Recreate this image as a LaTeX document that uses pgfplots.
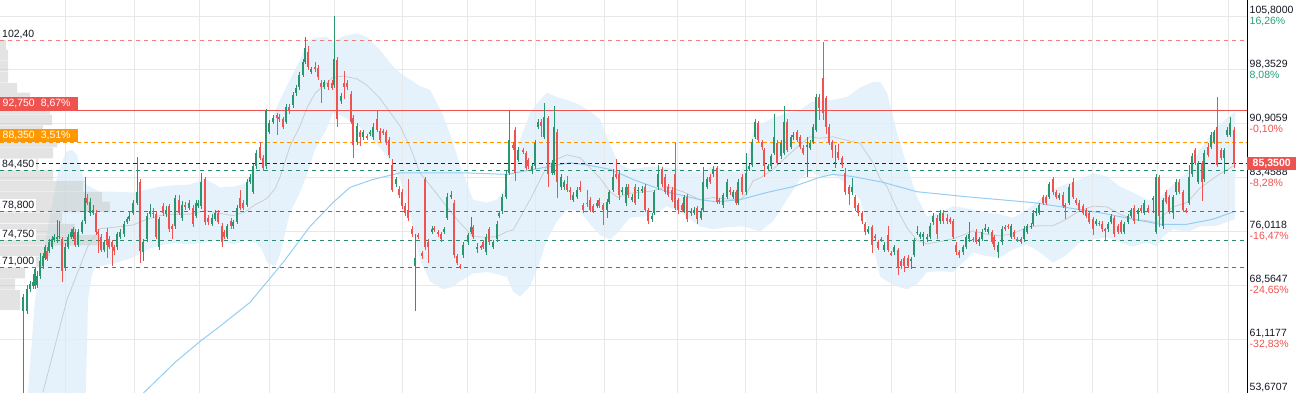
\documentclass[border=0pt]{standalone}
\usepackage{pgfplots}
\pgfplotsset{compat=1.18}
\usepackage{pgfplotstable}
\usepgfplotslibrary{fillbetween}
\usepackage{fontspec}
\setmainfont{Liberation Sans}
\definecolor{cup}{RGB}{42,150,110}
\definecolor{cdn}{RGB}{239,83,80}
\definecolor{corg}{RGB}{255,152,0}
\definecolor{cnavy}{RGB}{20,20,150}
\definecolor{cteal}{RGB}{40,140,110}
\definecolor{cband}{RGB}{224,240,252}
\definecolor{csma}{RGB}{150,205,245}
\definecolor{cmid}{RGB}{205,205,205}
\definecolor{cgrid}{RGB}{232,232,232}
\definecolor{cpg}{RGB}{38,160,120}
\definecolor{ctxt}{RGB}{19,23,34}

\pgfplotstableread{
x o h l c
23 65.0 67.3 50.0 66.9
27 65.0 68.6 64.6 68.0
30 68.0 69.2 67.6 68.7
33 68.4 70.1 68.0 69.0
35 68.4 71.2 68.0 70.8
37 68.6 70.5 68.2 69.9
40 69.8 73.0 69.5 71.9
43 71.2 73.0 70.8 72.6
45 72.4 74.2 72.0 73.8
47 73.3 73.8 71.9 72.2
49 73.3 75.0 73.0 74.5
52 73.9 75.4 73.6 75.0
54 74.8 75.6 74.5 75.2
57 75.0 77.6 74.4 75.3
59 75.3 77.5 74.9 75.4
62 74.9 75.3 69.0 70.5
65 71.0 74.4 70.6 73.9
68 73.9 75.6 73.6 75.3
71 75.2 76.3 74.9 75.9
73 75.3 76.6 75.0 76.3
75 75.9 76.4 73.9 74.2
78 74.2 76.3 73.9 75.9
82 76.0 77.6 75.6 77.3
85 77.4 83.6 77.0 80.7
87 80.7 81.2 79.6 80.0
90 78.6 80.6 78.2 80.1
93 78.6 79.6 78.3 79.0
96 78.6 79.0 75.5 75.9
98 75.9 76.3 73.0 75.6
101 75.2 75.6 73.1 73.5
104 73.5 74.8 73.2 74.5
107 75.9 76.5 72.4 74.2
109 75.0 75.4 73.6 73.9
112 74.5 74.8 71.2 73.8
114 73.9 74.2 72.8 73.3
117 73.9 76.0 73.5 75.6
120 75.3 76.3 75.0 75.9
124 75.6 77.4 75.3 77.0
127 77.3 78.0 77.0 77.7
129 77.7 78.8 77.4 78.1
133 78.6 80.4 78.3 80.0
137 80.0 86.3 79.7 81.5
140 82.9 83.3 71.7 73.3
143 73.1 75.0 71.9 74.6
147 74.9 78.5 74.6 78.1
150 78.4 79.8 78.0 78.8
153 78.6 79.2 77.8 78.4
156 78.4 78.8 74.9 75.2
159 73.8 78.0 73.4 77.7
163 79.5 79.9 78.2 78.6
166 78.4 79.5 78.0 79.0
169 79.5 79.8 75.9 76.3
172 76.7 77.0 75.0 76.3
175 76.7 81.1 76.3 80.7
179 80.4 81.1 78.3 78.6
182 77.9 80.2 77.5 79.7
185 79.6 80.1 79.0 79.4
189 79.3 80.4 79.0 80.0
193 79.3 79.6 76.6 77.0
196 78.1 80.3 77.8 79.9
198 79.5 80.4 79.2 80.0
201 79.5 84.1 79.1 82.8
205 83.2 83.6 76.9 77.3
208 77.9 78.3 76.9 77.3
212 77.1 78.4 76.8 77.9
215 77.7 79.0 77.4 78.6
218 78.6 79.0 77.0 77.3
222 76.8 77.2 73.9 74.6
224 75.9 76.2 74.9 75.3
227 75.3 77.0 74.9 76.7
231 77.4 77.8 76.3 76.7
233 76.7 77.6 76.4 77.3
237 77.3 79.7 77.0 79.3
240 80.6 81.7 79.0 79.3
243 80.0 80.4 79.0 79.3
247 79.7 83.3 79.4 82.9
250 82.9 84.0 82.6 83.6
253 81.5 85.4 81.2 85.0
256 85.0 87.3 84.7 86.9
260 87.7 88.4 85.9 86.2
263 86.2 86.6 84.4 84.8
266 85.0 92.9 84.6 92.6
269 89.8 91.4 89.5 91.0
273 91.2 92.1 90.9 91.7
277 92.1 92.4 89.4 91.7
279 91.9 92.2 91.2 91.5
283 91.5 91.8 90.2 90.5
286 91.2 93.6 90.9 93.2
289 93.2 93.6 92.2 92.6
293 93.5 95.3 93.1 94.9
296 95.2 96.3 94.8 95.9
299 96.0 98.1 95.6 97.7
303 97.7 99.9 97.3 99.5
305 99.5 102.9 99.1 101.4
308 100.8 101.7 98.4 98.8
311 98.1 98.8 97.8 98.4
315 98.8 99.4 98.0 98.4
318 98.6 99.0 97.0 97.4
321 96.6 96.9 93.8 96.0
324 96.0 97.0 95.7 96.7
328 96.6 97.0 95.6 96.0
332 96.6 97.0 95.5 95.9
334 96.3 105.8 95.9 99.9
337 99.7 100.1 90.4 91.5
341 94.0 95.2 93.6 94.8
344 96.6 98.2 94.3 96.0
347 96.6 96.9 95.6 96.0
351 95.0 95.4 90.8 91.2
353 91.7 92.1 86.2 88.0
357 88.4 91.0 88.0 90.6
360 89.7 90.0 87.8 89.0
363 89.0 90.0 88.7 89.7
367 89.2 89.5 88.7 89.0
370 89.5 90.1 89.2 89.8
373 89.0 91.0 88.7 90.4
377 91.5 92.6 89.8 90.1
380 89.9 90.3 88.4 88.7
383 89.9 90.2 89.4 89.7
386 89.8 90.1 88.0 88.4
389 88.7 89.0 86.2 86.6
392 85.2 86.0 81.4 81.8
396 82.5 83.6 82.2 83.2
399 81.9 82.3 80.7 81.1
402 81.5 81.9 79.1 79.5
405 79.5 80.0 78.2 78.6
408 79.0 83.3 77.5 77.9
412 76.4 76.8 75.2 75.6
415 71.2 75.6 65.0 72.4
418 75.5 75.8 75.0 75.3
422 73.0 73.3 72.2 72.6
425 83.2 83.5 73.5 73.9
428 74.5 74.9 71.7 73.8
432 76.0 76.8 75.6 76.4
434 76.4 76.7 76.0 76.3
438 75.9 76.2 75.2 75.6
441 75.7 76.0 74.6 75.0
444 76.0 76.6 75.6 76.3
447 77.9 81.3 77.6 80.8
451 80.8 81.6 80.5 81.1
454 80.0 80.4 72.4 72.8
457 72.6 72.9 71.3 71.7
460 71.2 71.5 70.8 71.0
463 72.8 74.6 72.4 74.2
468 74.6 75.8 74.2 75.5
471 75.9 78.0 75.6 76.6
473 76.6 76.9 74.9 75.2
477 73.6 74.4 73.0 73.8
481 73.9 74.2 73.4 73.8
483 74.5 74.8 73.6 73.9
486 73.1 75.6 72.8 75.3
489 76.3 76.6 74.2 74.5
493 73.9 74.8 73.6 74.5
497 74.9 77.5 74.6 77.1
499 78.1 78.9 77.8 78.5
502 78.8 81.2 78.4 80.8
506 80.8 84.3 80.5 83.9
509 84.1 92.6 83.8 88.7
513 88.0 88.4 87.3 87.6
515 90.1 90.5 83.0 84.1
518 85.9 87.7 85.6 87.3
523 87.3 87.6 86.7 87.0
526 86.8 87.1 84.5 84.8
528 85.9 86.2 84.6 85.0
532 84.3 85.3 83.9 85.0
535 85.0 88.7 84.7 88.3
538 90.5 91.5 90.2 91.2
541 91.2 91.5 89.0 90.6
544 89.1 93.8 88.8 91.9
548 91.7 92.0 82.2 83.9
552 84.1 85.9 83.8 85.5
554 84.1 93.4 83.8 90.4
557 89.8 90.2 80.6 82.8
561 82.2 84.0 81.8 83.6
564 82.1 83.1 81.7 82.8
567 82.5 83.7 81.5 81.8
570 81.8 82.1 80.3 81.4
573 80.4 81.4 80.1 81.1
577 80.8 82.2 80.5 81.8
580 82.1 83.0 81.4 81.7
583 79.7 80.0 78.6 79.0
587 80.0 81.7 79.4 79.8
590 80.4 80.8 78.7 79.0
593 79.5 79.8 78.6 78.9
597 79.5 80.3 79.2 80.0
599 80.4 80.7 79.2 79.5
603 79.7 80.0 76.9 79.0
607 79.0 80.5 77.8 80.1
609 80.1 81.8 79.8 81.4
613 81.8 84.6 81.5 83.6
616 84.0 86.0 83.3 83.6
619 83.9 84.3 80.3 81.1
622 81.4 82.2 81.1 81.8
626 80.0 82.5 79.5 82.1
628 82.2 82.5 80.7 81.1
632 80.4 81.2 80.1 80.8
635 82.1 82.5 79.7 80.0
638 81.6 82.1 80.5 81.8
642 81.7 82.3 81.3 81.9
645 82.1 82.5 78.7 79.0
648 79.0 79.3 77.0 77.4
652 77.7 78.6 77.3 78.2
654 78.6 81.8 78.3 81.4
658 82.1 85.2 81.8 83.9
662 84.6 84.9 82.1 82.5
665 83.6 83.9 81.2 81.5
668 82.2 82.5 80.8 81.1
672 81.8 82.1 80.1 80.4
675 83.9 88.3 79.0 79.3
678 80.4 80.7 78.4 79.0
682 79.7 80.0 78.7 79.0
684 78.8 81.1 78.5 80.8
687 80.8 81.2 77.3 77.7
691 78.6 79.3 78.2 78.9
694 78.6 79.4 78.3 79.0
697 79.2 79.5 77.0 77.7
701 77.9 79.2 77.6 78.8
703 79.0 84.9 78.7 82.8
707 82.2 83.6 81.9 83.2
710 83.6 83.9 82.5 82.8
713 83.9 85.1 83.6 84.7
717 84.8 85.1 79.8 80.1
719 80.4 80.6 79.8 80.1
723 79.7 81.3 79.2 81.0
727 80.8 83.2 80.5 82.8
730 81.8 82.1 81.1 81.4
733 80.8 81.7 80.5 81.4
736 81.4 81.7 79.6 80.0
738 80.0 83.2 79.7 82.8
742 83.6 83.9 81.1 81.4
746 81.4 86.9 81.1 84.1
749 84.7 85.3 84.3 85.0
752 85.2 88.8 84.9 88.4
755 89.1 91.6 88.8 91.2
758 91.0 91.3 88.4 88.7
762 88.4 88.7 87.3 87.7
764 87.3 87.6 83.5 85.0
768 84.6 85.3 84.3 85.0
771 85.0 86.7 84.7 86.4
774 86.9 92.2 86.6 89.1
777 88.3 88.6 85.2 85.5
781 86.4 88.6 86.0 88.3
784 86.9 93.4 86.6 91.2
787 91.2 91.5 87.0 87.3
791 87.7 89.4 87.4 89.1
793 89.0 89.8 88.7 89.4
797 89.8 90.1 88.4 88.7
800 89.0 89.3 87.4 87.7
803 87.6 87.9 86.6 86.9
807 87.7 89.0 83.5 88.0
810 87.6 88.6 87.3 88.3
813 88.4 90.8 88.1 90.5
816 90.1 95.0 89.8 94.6
819 94.6 95.0 91.4 93.1
823 97.2 102.2 91.4 92.4
826 94.4 94.7 89.5 90.5
829 90.5 90.8 87.9 88.3
832 88.4 88.7 86.2 87.3
835 85.5 88.0 84.8 85.6
838 87.0 88.1 85.9 86.2
842 86.2 86.5 84.8 85.2
845 84.1 84.8 81.0 81.4
849 82.1 82.4 79.7 81.2
852 81.4 83.4 81.1 82.1
855 80.8 81.1 78.9 79.3
858 79.7 80.0 78.2 78.6
862 78.5 78.8 77.0 77.4
865 77.0 77.3 75.5 75.9
868 75.9 76.8 75.6 76.4
872 76.6 76.9 73.0 74.2
875 75.3 75.6 74.8 75.2
878 74.5 74.8 73.4 73.7
881 75.0 75.3 74.6 74.9
884 73.5 74.5 73.2 74.2
888 75.5 76.7 73.2 73.5
891 73.0 73.3 72.6 72.9
894 73.1 74.2 72.8 73.9
898 73.4 73.7 70.0 71.0
901 71.9 72.2 70.8 71.2
904 72.3 72.6 70.4 71.2
908 72.4 72.7 70.9 71.2
911 71.9 72.5 70.8 72.2
914 72.8 75.1 72.5 74.8
917 75.8 76.7 75.5 76.0
920 75.3 76.0 75.0 75.7
923 75.3 75.9 74.0 75.6
927 74.9 75.6 74.6 75.3
930 75.3 77.2 75.0 76.8
933 77.3 78.6 76.9 78.2
937 77.9 78.3 75.0 75.6
940 77.4 79.0 77.1 78.6
943 78.6 79.0 77.0 77.4
947 77.9 78.4 77.1 77.4
950 77.7 78.0 77.0 77.3
953 77.4 77.7 74.9 75.2
956 74.2 74.5 72.8 73.1
959 73.1 73.4 72.4 72.8
963 73.1 74.1 72.8 73.8
966 73.9 75.5 73.6 75.2
969 74.9 77.3 74.6 75.6
973 75.0 75.3 74.6 74.9
976 76.0 76.3 74.3 74.6
979 74.6 75.3 74.0 75.0
982 75.0 76.3 74.7 75.9
985 76.3 77.1 76.0 76.5
988 75.9 76.6 75.6 76.3
992 75.9 76.2 74.3 74.6
994 75.2 75.5 73.5 73.8
998 73.1 74.5 72.4 74.2
1002 74.5 76.7 74.2 76.3
1005 76.6 76.9 76.1 76.4
1008 76.8 77.1 76.3 76.6
1011 75.3 77.0 75.0 76.7
1014 75.9 76.2 75.0 75.3
1017 75.0 75.3 74.5 74.8
1021 74.9 75.2 74.3 74.6
1024 74.9 76.8 74.6 76.4
1027 75.9 77.0 75.6 76.7
1031 76.6 77.2 76.3 76.8
1033 77.0 79.0 76.7 78.6
1036 78.5 79.2 78.2 78.8
1039 78.6 80.0 78.3 79.6
1043 80.8 81.1 79.7 80.0
1046 80.8 81.1 79.7 80.0
1049 80.8 82.9 80.5 82.5
1053 83.2 83.6 81.0 81.4
1056 81.4 81.7 80.5 80.8
1059 80.7 81.3 80.4 81.0
1063 81.1 81.4 79.2 79.5
1065 79.6 80.0 77.7 79.4
1069 80.0 82.6 79.7 82.2
1073 82.9 83.4 80.5 80.8
1076 80.4 80.7 79.7 80.0
1079 80.0 80.3 78.7 79.0
1083 79.5 79.8 78.3 78.6
1086 79.0 79.3 77.8 78.1
1089 78.6 78.9 77.0 77.3
1093 77.7 78.0 75.5 76.4
1096 77.0 77.7 76.7 77.4
1099 77.2 77.5 76.8 77.1
1102 77.1 77.4 76.0 76.3
1105 76.3 76.5 74.8 76.2
1108 76.3 77.3 76.0 77.0
1111 77.3 78.4 77.0 78.1
1114 77.9 78.2 75.3 75.6
1118 76.7 77.0 75.6 75.9
1121 77.3 77.6 75.6 75.9
1124 76.0 77.3 75.7 77.0
1128 77.3 78.4 77.0 78.1
1131 78.1 79.3 77.8 79.0
1134 79.3 79.6 77.1 77.4
1138 78.4 79.3 77.4 79.0
1141 79.3 79.6 78.5 78.8
1144 78.6 80.3 78.3 80.0
1148 79.3 79.6 78.6 78.9
1153 80.5 80.9 78.5 80.6
1156 75.9 83.9 75.6 83.6
1159 83.5 83.8 76.6 78.1
1163 76.7 80.7 76.4 80.4
1166 81.5 81.8 79.8 80.1
1169 80.8 81.1 78.4 78.8
1173 78.6 81.1 77.7 80.8
1176 81.4 83.2 81.1 82.9
1179 82.9 83.2 81.2 81.5
1183 81.4 81.7 78.7 79.0
1186 79.0 79.3 78.5 78.8
1189 80.0 85.2 79.7 83.6
1192 83.9 86.8 83.6 86.4
1195 87.3 87.6 85.2 85.5
1198 82.9 85.8 82.6 85.5
1202 85.5 85.8 80.2 82.9
1204 83.2 87.2 82.9 86.9
1208 87.7 88.3 86.3 86.6
1211 87.7 89.7 87.4 89.4
1214 88.4 90.0 88.1 89.7
1217 90.4 94.6 84.9 85.2
1221 87.3 87.6 85.9 86.2
1224 86.2 87.6 84.0 87.3
1227 89.4 90.4 89.1 90.1
1230 89.4 91.9 89.1 91.0
1234 90.1 90.4 84.8 85.35
}\candles

\begin{document}
\begin{tikzpicture}
\begin{axis}[
  at={(0,0)}, anchor=south west,
  width=1247pt, height=393pt, scale only axis,
  xmin=0, xmax=1247, ymin=53.6707, ymax=108.01,
  clip mode=individual,
  axis line style={draw=none},
  major tick length=0pt,
  xtick=\empty,
  ytick={105.8,98.3529,90.9059,83.4588,76.0118,68.5647,61.1177},
  yticklabels={{105,8000\\\textcolor{cpg}{16,26\%}},{98,3529\\\textcolor{cpg}{8,08\%}},{90,9059\\\textcolor{cdn}{-0,10\%}},{83,4588\\\textcolor{cdn}{-8,28\%}},{76,0118\\\textcolor{cdn}{-16,47\%}},{68,5647\\\textcolor{cdn}{-24,65\%}},{61,1177\\\textcolor{cdn}{-32,83\%}}},
  yticklabel pos=right,
  yticklabel style={font=\fontsize{10.5}{11}\selectfont, align=left, anchor=west, inner xsep=0pt, inner ysep=0pt, xshift=2.5pt, text=ctxt},
  ymajorgrids, grid style={cgrid, line width=0.8pt},
]
% vertical grid lines (period boundaries)
\pgfplotsinvokeforeach{65.7,134,199,269,334.7,402.7,467.7,535.7,604,677,745.7,816,891,955,1023,1092,1157,1228}{
  \addplot[cgrid, line width=0.8pt, forget plot] coordinates {(#1,53.6707) (#1,108.01)};
}
% volume profile
\addplot[xbar, bar width=1.45, bar shift=0pt, fill={rgb,255:red,200;green,200;blue,200}, fill opacity=0.5, draw=none, forget plot] coordinates {
(6,101.79) (8,100.40) (8,98.88) (8,97.36) (17,95.84) (30,94.46) (50,92.94) (52,91.42) (43,89.90) (57,88.37) (53,86.85) (38,85.33) (53,83.81) (83,82.29) (102,80.77) (110,79.39) (62,77.87) (75,76.34) (100,74.82) (50,73.30) (43,71.78) (25,70.26) (15,68.74) (20,67.22) (20,65.84)};
% Bollinger band
\addplot[draw=none, name path=U, forget plot] coordinates {
(28,53.8) (35,66.6) (47,75.9) (58,84.1) (66,87.0) (72,87.3) (77,86.6) (80,85.0) (84,83.2) (87,82.4) (100,81.5) (115,81.5) (133,81.4) (147,81.8) (160,82.2) (175,82.4) (190,82.5) (205,83.3) (220,82.1) (233,82.2) (245,82.6) (255,84.8) (262,86.9) (267,89.4) (275,92.6) (280,94.2) (290,97.0) (300,99.7) (307,102.2) (315,102.8) (327,102.9) (333,102.2) (343,103.0) (357,103.4) (367,102.9) (380,101.1) (390,99.3) (400,97.9) (410,97.0) (420,96.1) (430,95.6) (443,92.1) (452,88.7) (460,85.2) (473,80.4) (487,80.0) (497,80.4) (507,82.2) (513,84.6) (520,88.7) (530,92.4) (540,94.2) (547,95.2) (557,94.6) (567,94.2) (580,93.5) (590,92.6) (600,91.5) (610,88.0) (618,85.5) (630,84.6) (653,85.0) (667,84.8) (683,84.6) (700,84.1) (713,85.0) (727,84.4) (740,84.1) (747,85.9) (753,89.7) (760,90.8) (773,91.7) (787,92.4) (800,92.8) (810,93.8) (820,94.2) (833,94.2) (847,94.6) (860,95.9) (873,96.7) (880,96.7) (887,95.2) (897,89.7) (907,85.0) (917,80.8) (927,78.1) (940,78.6) (953,79.5) (963,79.3) (973,79.0) (987,78.6) (1000,78.4) (1013,77.9) (1027,79.0) (1040,80.4) (1053,81.8) (1065,82.5) (1080,83.2) (1093,84.1) (1107,83.6) (1120,82.2) (1133,81.4) (1147,80.4) (1157,80.4) (1163,81.1) (1173,82.5) (1187,84.1) (1200,87.3) (1217,90.5) (1235,92.6)};
\addplot[draw=none, name path=L, forget plot] coordinates {
(28,50) (85,50) (87,60.0) (88,66.6) (92,70.1) (95,71.0) (100,71.2) (115,71.6) (133,72.4) (147,73.5) (160,74.1) (175,74.4) (190,74.2) (205,74.5) (220,74.8) (233,74.2) (245,74.8) (255,74.5) (262,73.5) (267,71.7) (275,71.2) (280,72.8) (290,78.6) (300,81.4) (307,83.9) (315,87.3) (327,90.3) (333,92.4) (343,91.9) (357,90.8) (367,89.4) (380,87.6) (390,85.7) (400,83.2) (410,78.4) (420,72.1) (430,69.1) (443,68.0) (452,68.3) (460,69.1) (473,70.2) (487,70.4) (497,70.1) (507,69.7) (513,67.7) (520,67.0) (530,68.4) (540,71.9) (547,74.9) (557,77.4) (567,79.0) (580,78.8) (590,77.0) (600,75.5) (610,74.9) (618,75.9) (630,77.9) (653,78.2) (667,79.5) (683,78.4) (700,76.7) (713,76.3) (727,76.6) (740,76.7) (747,76.6) (753,76.3) (760,76.0) (773,77.4) (787,80.4) (800,83.2) (810,84.3) (820,83.6) (833,83.9) (847,82.5) (860,80.4) (873,74.2) (880,69.8) (887,69.1) (897,68.4) (907,68.0) (917,68.7) (927,70.4) (940,70.5) (953,70.4) (963,71.7) (973,73.1) (987,72.6) (1000,72.4) (1013,73.5) (1027,74.2) (1040,73.1) (1053,71.7) (1065,72.6) (1080,74.5) (1093,74.9) (1107,75.2) (1120,74.5) (1133,73.9) (1147,74.5) (1157,73.9) (1163,75.3) (1173,76.3) (1187,75.9) (1200,76.7) (1217,76.8) (1235,77.7)};
\addplot[cband, draw=none, fill opacity=0.85, forget plot] fill between[of=U and L];
% middle band
\addplot[cmid, line width=0.8pt, forget plot] coordinates {
(43,53.8) (67,66.6) (88,74.0) (100,76.4) (115,76.6) (133,76.9) (147,77.7) (160,78.2) (175,78.4) (190,78.4) (205,78.9) (220,78.5) (233,78.2) (245,78.7) (255,79.7) (262,80.2) (267,80.6) (275,81.9) (280,83.5) (290,87.8) (300,90.6) (307,93.1) (315,95.1) (327,96.6) (333,97.3) (343,97.5) (357,97.1) (367,96.2) (380,94.4) (390,92.5) (400,90.6) (410,87.7) (420,84.1) (430,82.4) (443,80.1) (452,78.5) (460,77.2) (473,75.3) (487,75.2) (497,75.3) (507,76.0) (513,76.2) (520,77.9) (530,80.4) (540,83.1) (547,85.1) (557,86.0) (567,86.6) (580,86.2) (590,84.8) (600,83.4) (610,81.5) (618,80.7) (630,81.3) (653,81.6) (667,82.2) (683,81.5) (700,80.4) (713,80.7) (727,80.5) (740,80.4) (747,81.3) (753,83.0) (760,83.4) (773,84.6) (787,86.4) (800,88.0) (810,89.1) (820,88.9) (833,89.1) (847,88.6) (860,88.2) (873,85.5) (880,83.3) (887,82.2) (897,79.1) (907,76.5) (917,74.8) (927,74.3) (940,74.6) (953,75.0) (963,75.5) (973,76.1) (987,75.6) (1000,75.4) (1013,75.7) (1027,76.6) (1040,76.8) (1053,76.8) (1065,77.6) (1080,78.9) (1093,79.5) (1107,79.4) (1120,78.4) (1133,77.7) (1147,77.5) (1157,77.2) (1163,78.2) (1173,79.4) (1187,80.0) (1200,82.0) (1217,83.7) (1235,85.2)};
% long moving average
\addplot[csma, line width=1pt, forget plot] coordinates {
(140,53.2) (175,57.9) (200,60.8) (220,62.9) (250,66.2) (283,71.7) (310,76.7) (333,80.0) (350,82.1) (373,83.2) (400,84.1) (467,84.1) (507,83.9) (550,85.0) (570,85.5) (587,85.2) (610,84.6) (633,83.2) (667,81.5) (700,80.4) (717,80.1) (740,80.4) (767,81.4) (793,82.2) (820,83.5) (833,83.9) (853,83.6) (883,82.8) (917,81.5) (967,80.8) (1000,80.4) (1033,80.0) (1067,79.3) (1100,78.6) (1133,77.7) (1160,77.0) (1187,77.0) (1213,77.7) (1235,78.8)};
% horizontal levels
\addplot[cdn!75, line width=0.8pt, dash pattern=on 4pt off 4pt, forget plot] coordinates {(0,102.4) (1247,102.4)};
\addplot[cdn, line width=0.9pt, forget plot] coordinates {(0,92.75) (1247,92.75)};
\addplot[corg, line width=0.9pt, dash pattern=on 4pt off 3pt, forget plot] coordinates {(0,88.35) (1247,88.35)};
\addplot[cnavy, line width=0.9pt, dash pattern=on 4pt off 3pt, forget plot] coordinates {(0,85.35) (1247,85.35)};
\addplot[cteal, line width=0.8pt, dash pattern=on 4pt off 4pt, forget plot] coordinates {(0,84.45) (1247,84.45)};
\addplot[cteal, line width=0.8pt, dash pattern=on 4pt off 4pt, forget plot] coordinates {(0,78.8) (1247,78.8)};
\addplot[cteal, line width=0.8pt, dash pattern=on 4pt off 4pt, forget plot] coordinates {(0,74.75) (1247,74.75)};
\addplot[cteal, line width=0.8pt, dash pattern=on 4pt off 4pt, forget plot] coordinates {(0,71.0) (1247,71.0)};
% candles: wicks
\addplot[draw=none, mark=none, forget plot, restrict y to domain=0:200, error bars/.cd, y dir=both, y explicit, error mark=none, error bar style={draw=cup, line width=0.9pt}]
  table[x=x, y expr={ifthenelse(\thisrow{c}>=\thisrow{o},(\thisrow{h}+\thisrow{l})/2,-1000)}, y error expr=(\thisrow{h}-\thisrow{l})/2] {\candles};
\addplot[draw=none, mark=none, forget plot, restrict y to domain=0:200, error bars/.cd, y dir=both, y explicit, error mark=none, error bar style={draw=cdn, line width=0.9pt}]
  table[x=x, y expr={ifthenelse(\thisrow{c}<\thisrow{o},(\thisrow{h}+\thisrow{l})/2,-1000)}, y error expr=(\thisrow{h}-\thisrow{l})/2] {\candles};
% candles: bodies
\addplot[draw=none, mark=none, forget plot, restrict y to domain=0:200, error bars/.cd, y dir=both, y explicit, error mark=none, error bar style={draw=cup, line width=2.6pt}]
  table[x=x, y expr={ifthenelse(\thisrow{c}>=\thisrow{o},(\thisrow{o}+\thisrow{c})/2,-1000)}, y error expr={max(abs(\thisrow{c}-\thisrow{o})/2,0.08)}] {\candles};
\addplot[draw=none, mark=none, forget plot, restrict y to domain=0:200, error bars/.cd, y dir=both, y explicit, error mark=none, error bar style={draw=cdn, line width=2.6pt}]
  table[x=x, y expr={ifthenelse(\thisrow{c}<\thisrow{o},(\thisrow{o}+\thisrow{c})/2,-1000)}, y error expr={max(abs(\thisrow{c}-\thisrow{o})/2,0.08)}] {\candles};
% labels
\node[anchor=south west, fill=white, text=ctxt, inner xsep=2pt, inner ysep=1.5pt, font=\fontsize{10.5}{12}\selectfont] at (axis cs:0,102.4) {102,40};
\node[anchor=south west, fill=cdn, text=white, text width=73pt, align=left, inner xsep=2.5pt, inner ysep=2pt, font=\fontsize{10.5}{12}\selectfont] at (axis cs:0,92.75) {92,750\hspace{6pt}8,67\%};
\node[anchor=south west, fill=corg, text=white, text width=73pt, align=left, inner xsep=2.5pt, inner ysep=2pt, font=\fontsize{10.5}{12}\selectfont] at (axis cs:0,88.35) {88,350\hspace{6pt}3,51\%};
\node[anchor=south west, fill=white, text=ctxt, inner xsep=2pt, inner ysep=1.5pt, font=\fontsize{10.5}{12}\selectfont] at (axis cs:0,84.45) {84,450};
\node[anchor=south west, fill=white, text=ctxt, inner xsep=2pt, inner ysep=1.5pt, font=\fontsize{10.5}{12}\selectfont] at (axis cs:0,78.8) {78,800};
\node[anchor=south west, fill=white, text=ctxt, inner xsep=2pt, inner ysep=1.5pt, font=\fontsize{10.5}{12}\selectfont] at (axis cs:0,74.75) {74,750};
\node[anchor=south west, fill=white, text=ctxt, inner xsep=2pt, inner ysep=1.5pt, font=\fontsize{10.5}{12}\selectfont] at (axis cs:0,71.0) {71,000};
\draw[black, line width=0.8pt] (axis cs:1247,53.6707) -- (axis cs:1247,108.01);
\node[anchor=south west, text=ctxt, inner xsep=0pt, inner ysep=0.5pt, xshift=2.5pt, font=\fontsize{10.5}{12}\selectfont] at (axis cs:1247,53.6707) {53,6707};
\node[anchor=west, fill=cdn, text=white, inner xsep=2pt, inner ysep=2pt, minimum width=49pt, font=\bfseries\fontsize{10.5}{12}\selectfont] at (axis cs:1247,85.35) {85,3500};
\end{axis}
\pgfresetboundingbox
\path[use as bounding box] (0,0) rectangle (1296pt,393pt);
\end{tikzpicture}
\end{document}
